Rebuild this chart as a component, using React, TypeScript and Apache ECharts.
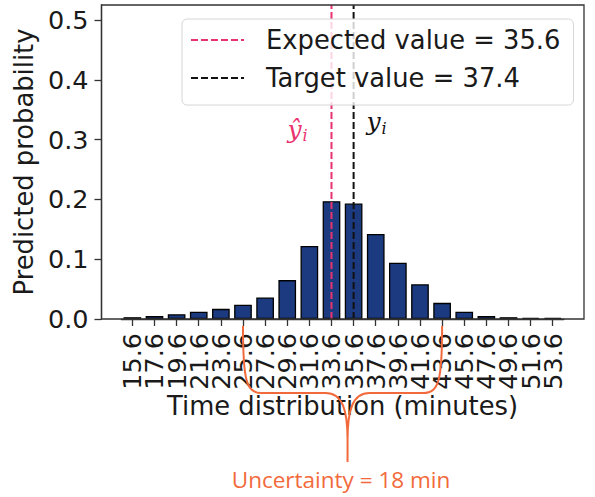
import React, { useEffect, useRef } from 'react';
import * as echarts from 'echarts';

const categories = ['15.6', '17.6', '19.6', '21.6', '23.6', '25.6', '27.6', '29.6', '31.6', '33.6',
  '35.6', '37.6', '39.6', '41.6', '43.6', '45.6', '47.6', '49.6', '51.6', '53.6'];
const probabilities = [0.003, 0.005, 0.008, 0.012, 0.017, 0.024, 0.036, 0.065, 0.122, 0.197,
  0.193, 0.142, 0.094, 0.058, 0.027, 0.012, 0.005, 0.003, 0.002, 0.002];
const yTicks = [0, 0.1, 0.2, 0.3, 0.4, 0.5];
const yMax = 0.525;
const expectedValue = 35.6;
const targetValue = 37.4;
const expectedCategory = '33.6';
const targetCategory = '35.6';
const uncertaintyMinutes = 18;
const uncertaintyStart = '25.6';
const uncertaintyEnd = '43.6';

const PINK = '#e8336f';
const ORANGE = '#f26a3b';
const BAR = '#1b3a80';
const FONT = 'DejaVu Sans';
const TICK_FS = 25.5;
const TITLE_FS = 25.8;

export default function App() {
  const ref = useRef<HTMLDivElement>(null);
  useEffect(() => {
    const chart = echarts.init(ref.current!, null, { renderer: 'svg' });
    const expName = `Expected value = ${expectedValue}`;
    const tgtName = `Target value = ${targetValue}`;
    chart.setOption({
      animation: false,
      grid: { left: 121.3, right: 595 - 563.8, top: 5, bottom: 497 - 319, containLabel: false },
      xAxis: {
        type: 'category',
        data: categories,
        name: 'Time distribution (minutes)',
        nameLocation: 'middle',
        nameGap: 74,
        nameMoveOverlap: false,
        nameTextStyle: { fontFamily: FONT, fontSize: TITLE_FS, color: '#1a1a1a' },
        axisLine: { show: true, lineStyle: { color: '#333', width: 1.3 } },
        axisTick: { show: true, alignWithLabel: true, length: 7, lineStyle: { color: '#333', width: 1.3 } },
        axisLabel: { rotate: 90, interval: 0, margin: 14, fontFamily: FONT, fontSize: TICK_FS, color: '#1a1a1a' },
        splitLine: { show: false },
      },
      yAxis: {
        type: 'value',
        min: 0,
        max: yMax,
        offset: 19.8,
        name: 'Predicted probability',
        nameLocation: 'middle',
        nameGap: 65,
        nameMoveOverlap: false,
        nameTextStyle: { fontFamily: FONT, fontSize: TITLE_FS, color: '#1a1a1a' },
        axisLine: { show: true, lineStyle: { color: '#333', width: 1.3 } },
        axisTick: { show: true, length: 7, customValues: yTicks, lineStyle: { color: '#333', width: 1.3 } },
        axisLabel: {
          customValues: yTicks,
          margin: 13,
          fontFamily: FONT,
          fontSize: TICK_FS,
          color: '#1a1a1a',
          formatter: (v: number) => v.toFixed(1),
        },
        splitLine: { show: false },
      },
      legend: {
        orient: 'vertical',
        left: 182,
        top: 19,
        padding: [6, 13, 12, 8],
        itemWidth: 53,
        itemHeight: 14,
        itemGap: 8,
        backgroundColor: 'rgba(255,255,255,0.8)',
        borderColor: '#d6d6d6',
        borderWidth: 1,
        borderRadius: 5,
        z: 10,
        itemStyle: { opacity: 0 },
        textStyle: { fontFamily: FONT, fontSize: TITLE_FS, color: '#1a1a1a', lineHeight: 30, padding: [0, 0, 0, 17] },
        data: [expName, tgtName],
      },
      series: [
        {
          type: 'bar',
          data: probabilities,
          barWidth: '80%',
          itemStyle: { color: BAR, borderColor: '#000', borderWidth: 1.3 },
          z: 2,
        },
        {
          name: expName,
          type: 'line',
          data: [[expectedCategory, 0], [expectedCategory, yMax]],
          symbol: 'none',
          lineStyle: { color: PINK, type: [7, 3], width: 2 },
          itemStyle: { color: PINK },
          z: 3,
        },
        {
          name: tgtName,
          type: 'line',
          data: [[targetCategory, 0], [targetCategory, yMax]],
          symbol: 'none',
          lineStyle: { color: '#111', type: [7, 3], width: 2 },
          itemStyle: { color: '#111' },
          z: 3,
        },
      ],
    });

    const xL = chart.convertToPixel({ xAxisIndex: 0 }, uncertaintyStart) as number;
    const xR = chart.convertToPixel({ xAxisIndex: 0 }, uncertaintyEnd) as number;
    const mid = (xL + xR) / 2 + 5;
    const yTop = 326, yH = 393, yC = 440, yEnd = 462;
    const d =
      `M${xL} ${yTop} C${xL} 380 ${xL + 3} ${yH} ${xL + 19} ${yH} L${mid - 22} ${yH} ` +
      `C${mid - 5} ${yH} ${mid} ${yH + 17} ${mid} ${yC} L${mid} ${yEnd} ` +
      `M${xR} ${yTop} C${xR} 380 ${xR - 3} ${yH} ${xR - 19} ${yH} L${mid + 22} ${yH} ` +
      `C${mid + 5} ${yH} ${mid} ${yH + 17} ${mid} ${yC}`;
    echarts.graphic.registerShape('brace', echarts.graphic.extendPath(d, {}));

    const xE = chart.convertToPixel({ xAxisIndex: 0 }, expectedCategory) as number;
    const xT = chart.convertToPixel({ xAxisIndex: 0 }, targetCategory) as number;

    chart.setOption({
      graphic: [
        {
          type: 'rect',
          silent: true,
          z: 5,
          shape: { x: 101.5, y: 5, width: 482.5, height: 314 },
          style: { fill: 'none', stroke: '#333', lineWidth: 1.3 },
        },
        {
          type: 'text',
          silent: true,
          x: xE - 44,
          y: 117,
          style: { text: 'ŷ', fontFamily: 'DejaVu Serif', fontStyle: 'italic', fontSize: 25, fill: PINK },
        },
        {
          type: 'text',
          silent: true,
          x: xE - 29,
          y: 127,
          style: { text: 'i', fontFamily: 'DejaVu Serif', fontStyle: 'italic', fontSize: 16, fill: PINK },
        },
        {
          type: 'text',
          silent: true,
          x: xT + 13,
          y: 109,
          style: { text: 'y', fontFamily: 'DejaVu Serif', fontStyle: 'italic', fontSize: 25, fill: '#111' },
        },
        {
          type: 'text',
          silent: true,
          x: xT + 28,
          y: 120,
          style: { text: 'i', fontFamily: 'DejaVu Serif', fontStyle: 'italic', fontSize: 16, fill: '#111' },
        },
        {
          type: 'brace',
          silent: true,
          z: 100,
          x: 0,
          y: 0,
          style: { stroke: ORANGE, fill: 'none', lineWidth: 2 },
        },
        {
          type: 'text',
          silent: true,
          z: 100,
          x: 341,
          y: 479,
          style: {
            text: `Uncertainty = ${uncertaintyMinutes} min`,
            fontFamily: 'Open Sans',
            fontSize: 22.5,
            fill: ORANGE,
            align: 'center',
            verticalAlign: 'middle',
          },
        },
      ],
    });

    return () => chart.dispose();
  }, []);

  return (
    <div
      ref={ref}
      style={{ position: 'absolute', left: 0, top: 0, width: 595, height: 497, background: '#fff' }}
    />
  );
}
